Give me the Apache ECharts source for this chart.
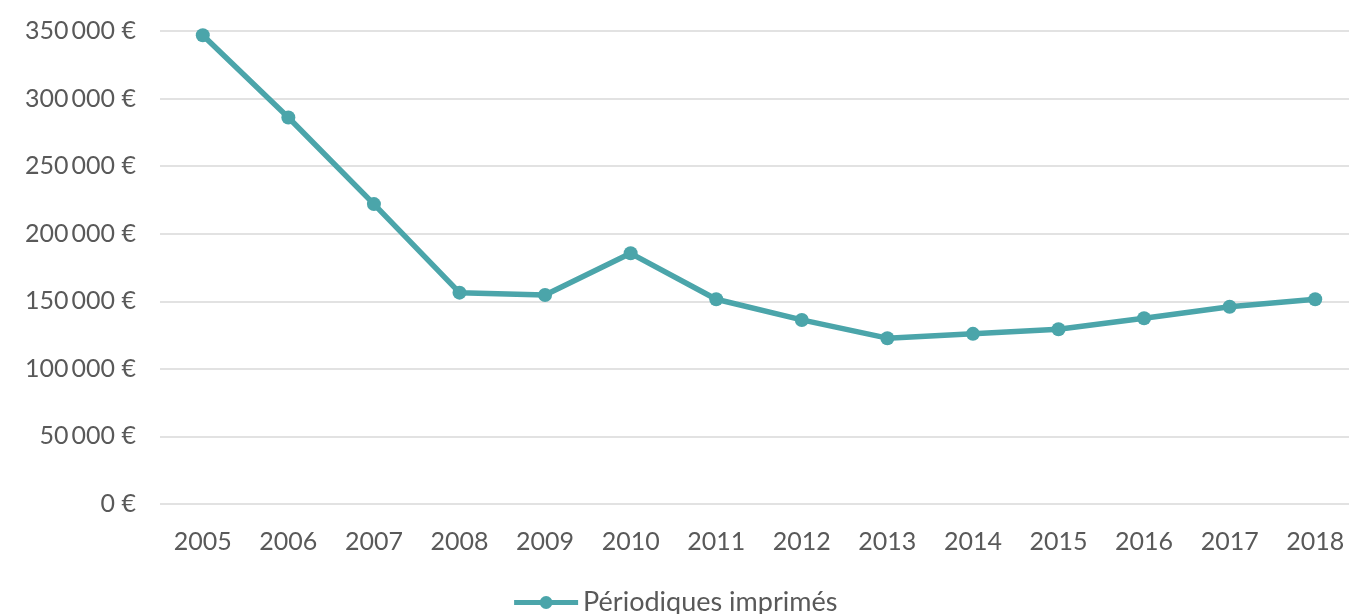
<!DOCTYPE html>
<html>
<head>
<meta charset="utf-8">
<script src="https://cdn.jsdelivr.net/npm/echarts@6/dist/echarts.min.js"></script>
<style>
  html, body { margin: 0; padding: 0; background: #fff; }
  #chart { width: 1349px; height: 614px; }
</style>
</head>
<body>
<div id="chart"></div>
<script>
// données
const years = ['2005', '2006', '2007', '2008', '2009', '2010', '2011',
  '2012', '2013', '2014', '2015', '2016', '2017', '2018'];
const periodiques = [346800, 286000, 221900, 156400, 154700, 185500, 151500,
  136200, 122700, 125900, 129300, 137500, 146000, 151500];
const seriesName = 'Périodiques imprimés';

const teal = '#4ba5aa';
const grey = '#595959';
const font = 'Lato, "Open Sans", sans-serif';

const fmtEuro = v => String(v).replace(/\B(?=(\d{3})+(?!\d))/g, '\u2009') + ' €';

const chart = echarts.init(document.getElementById('chart'));
chart.setOption({
  animation: false,
  textStyle: { fontFamily: font },
  // la grille déborde un peu à droite, comme sur l'original
  grid: { left: 160, width: 1198, top: 31, height: 473, outerBoundsMode: 'none' },
  legend: {
    data: [seriesName],
    top: 584,
    left: 'center',
    itemWidth: 64,
    itemHeight: 16,
    itemGap: 4,
    lineStyle: { width: 5 },
    textStyle: { color: grey, fontSize: 27, fontFamily: font }
  },
  xAxis: {
    type: 'category',
    data: years,
    boundaryGap: true,
    axisLine: { show: false },
    axisTick: { show: false },
    axisLabel: { color: grey, fontSize: 25, margin: 25 }
  },
  yAxis: {
    type: 'value',
    min: 0,
    max: 350000,
    interval: 50000,
    axisLine: { show: false },
    axisTick: { show: false },
    axisLabel: { color: grey, fontSize: 25, margin: 24, formatter: fmtEuro },
    splitLine: { lineStyle: { color: '#d9d9d9', width: 1.5 } }
  },
  series: [{
    name: seriesName,
    type: 'line',
    data: periodiques,
    symbol: 'circle',
    symbolSize: 14,
    itemStyle: { color: teal },
    lineStyle: { color: teal, width: 5.5 }
  }]
});
</script>
</body>
</html>
